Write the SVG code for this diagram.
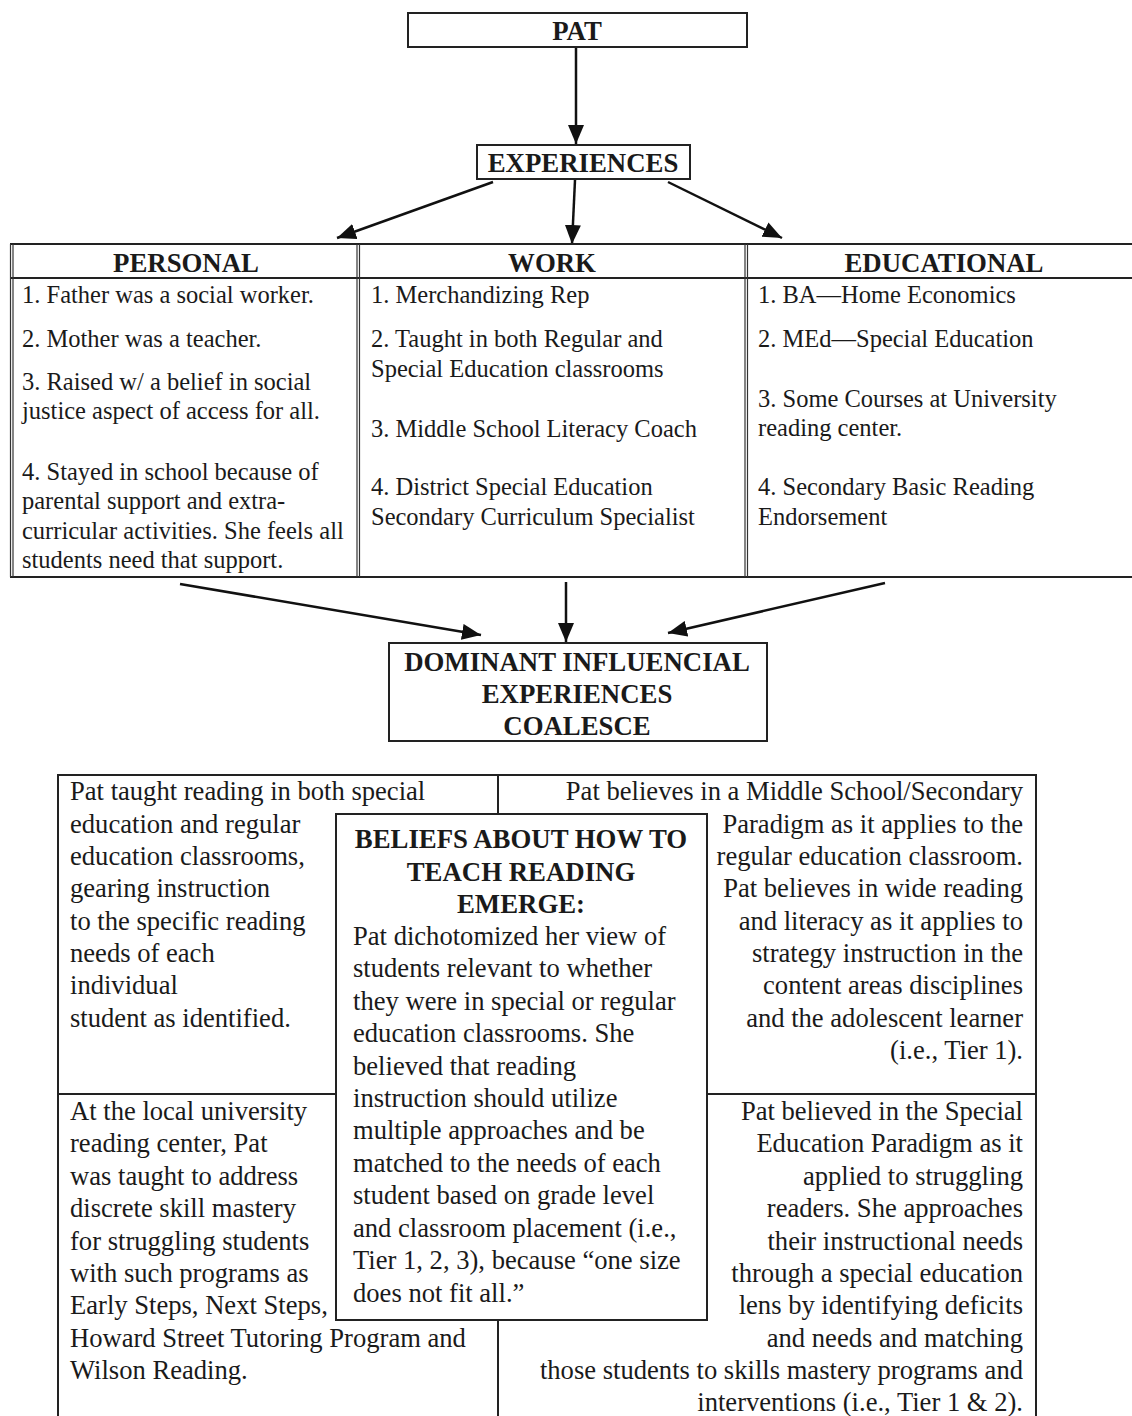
<svg xmlns="http://www.w3.org/2000/svg" width="1132" height="1416" viewBox="0 0 1132 1416">
<style>
  .box { fill: #fff; stroke: #222; stroke-width: 2; }
  .ln { fill: none; stroke: #222; stroke-width: 2; }
  .ln1 { fill: none; stroke: #333; stroke-width: 1.2; }
  .con { fill: none; stroke: #111; stroke-width: 2.5; marker-end: url(#ah); }
  text { font-family: "Liberation Serif", "Times New Roman", serif; fill: #1a1a1a; }
  .h { font-size: 26.8px; font-weight: bold; text-anchor: middle; }
  .t { font-size: 24.5px; }
  .g { font-size: 26.6px; }
  .r { text-anchor: end; }
</style>
<defs>
  <marker id="ah" markerUnits="userSpaceOnUse" markerWidth="20" markerHeight="16" refX="19" refY="8" orient="auto">
    <path d="M0,0 L19,8 L0,16 z" fill="#111"/>
  </marker>
</defs>
<rect width="1132" height="1416" fill="#fff"/>

<g id="connectors">
  <line class="con" x1="576" y1="47" x2="576" y2="144"/>
  <line class="con" x1="493" y1="182" x2="337" y2="238"/>
  <line class="con" x1="575" y1="180" x2="572" y2="244"/>
  <line class="con" x1="668" y1="182" x2="782" y2="238"/>
  <line class="con" x1="180" y1="584" x2="481" y2="635"/>
  <line class="con" x1="566" y1="582" x2="566" y2="642"/>
  <line class="con" x1="885" y1="583" x2="668" y2="633"/>
</g>

<g id="pat">
  <rect class="box" x="408" y="13" width="339" height="34"/>
  <text class="h" x="577" y="40">PAT</text>
</g>

<g id="experiences">
  <rect class="box" x="477" y="145" width="213" height="34"/>
  <text class="h" x="583" y="172">EXPERIENCES</text>
</g>

<g id="experience-table">
  <line class="ln" x1="10" y1="244" x2="1132" y2="244"/>
  <line class="ln" x1="10" y1="278" x2="1132" y2="278"/>
  <line class="ln" x1="10" y1="577" x2="1132" y2="577"/>
  <line class="ln1" x1="10.5" y1="244" x2="10.5" y2="577"/>
  <line class="ln1" x1="13" y1="244" x2="13" y2="577"/>
  <line class="ln1" x1="357" y1="244" x2="357" y2="577"/>
  <line class="ln1" x1="359.5" y1="244" x2="359.5" y2="577"/>
  <line class="ln1" x1="745" y1="244" x2="745" y2="577"/>
  <line class="ln1" x1="747.5" y1="244" x2="747.5" y2="577"/>
</g>

<g id="personal">
  <text class="h" x="186" y="272">PERSONAL</text>
  <text class="t" x="22" y="303">1. Father was a social worker.</text>
  <text class="t" x="22" y="347">2. Mother was a teacher.</text>
  <text class="t" x="22" y="390">3. Raised w/ a belief in social</text>
  <text class="t" x="22" y="419">justice aspect of access for all.</text>
  <text class="t" x="22" y="480">4. Stayed in school because of</text>
  <text class="t" x="22" y="509">parental support and extra-</text>
  <text class="t" x="22" y="539">curricular activities. She feels all</text>
  <text class="t" x="22" y="568">students need that support.</text>
</g>

<g id="work">
  <text class="h" x="552" y="272">WORK</text>
  <text class="t" x="371" y="303">1. Merchandizing Rep</text>
  <text class="t" x="371" y="347">2. Taught in both Regular and</text>
  <text class="t" x="371" y="377">Special Education classrooms</text>
  <text class="t" x="371" y="437">3. Middle School Literacy Coach</text>
  <text class="t" x="371" y="495">4. District Special Education</text>
  <text class="t" x="371" y="525">Secondary Curriculum Specialist</text>
</g>

<g id="educational">
  <text class="h" x="944" y="272">EDUCATIONAL</text>
  <text class="t" x="758" y="303">1. BA—Home Economics</text>
  <text class="t" x="758" y="347">2. MEd—Special Education</text>
  <text class="t" x="758" y="407">3. Some Courses at University</text>
  <text class="t" x="758" y="436">reading center.</text>
  <text class="t" x="758" y="495">4. Secondary Basic Reading</text>
  <text class="t" x="758" y="525">Endorsement</text>
</g>

<g id="dominant">
  <rect class="box" x="389" y="643" width="378" height="98"/>
  <text class="h" x="577" y="671">DOMINANT INFLUENCIAL</text>
  <text class="h" x="577" y="703">EXPERIENCES</text>
  <text class="h" x="577" y="735">COALESCE</text>
</g>

<g id="beliefs-grid">
  <path class="ln" d="M58,1416 V775 H1036 V1416"/>
  <line class="ln" x1="58" y1="1094" x2="336" y2="1094"/>
  <line class="ln" x1="707" y1="1094" x2="1036" y2="1094"/>
  <line class="ln" x1="498" y1="775" x2="498" y2="814"/>
  <line class="ln" x1="498" y1="1320" x2="498" y2="1416"/>
</g>

<g id="reading-instruction">
  <text class="g" x="70" y="800">Pat taught reading in both special</text>
  <text class="g" x="70" y="833">education and regular</text>
  <text class="g" x="70" y="865">education classrooms,</text>
  <text class="g" x="70" y="897">gearing instruction</text>
  <text class="g" x="70" y="930">to the specific reading</text>
  <text class="g" x="70" y="962">needs of each</text>
  <text class="g" x="70" y="994">individual</text>
  <text class="g" x="70" y="1027">student as identified.</text>
</g>

<g id="middle-school-paradigm">
  <text class="g r" x="1023" y="800">Pat believes in a Middle School/Secondary</text>
  <text class="g r" x="1023" y="833">Paradigm as it applies to the</text>
  <text class="g r" x="1023" y="865">regular education classroom.</text>
  <text class="g r" x="1023" y="897">Pat believes in wide reading</text>
  <text class="g r" x="1023" y="930">and literacy as it applies to</text>
  <text class="g r" x="1023" y="962">strategy instruction in the</text>
  <text class="g r" x="1023" y="994">content areas disciplines</text>
  <text class="g r" x="1023" y="1027">and the adolescent learner</text>
  <text class="g r" x="1023" y="1059">(i.e., Tier 1).</text>
</g>

<g id="university-reading-center">
  <text class="g" x="70" y="1120">At the local university</text>
  <text class="g" x="70" y="1152">reading center, Pat</text>
  <text class="g" x="70" y="1185">was taught to address</text>
  <text class="g" x="70" y="1217">discrete skill mastery</text>
  <text class="g" x="70" y="1250">for struggling students</text>
  <text class="g" x="70" y="1282">with such programs as</text>
  <text class="g" x="70" y="1314">Early Steps, Next Steps,</text>
  <text class="g" x="70" y="1347">Howard Street Tutoring Program and</text>
  <text class="g" x="70" y="1379">Wilson Reading.</text>
</g>

<g id="special-education-paradigm">
  <text class="g r" x="1023" y="1120">Pat believed in the Special</text>
  <text class="g r" x="1023" y="1152">Education Paradigm as it</text>
  <text class="g r" x="1023" y="1185">applied to struggling</text>
  <text class="g r" x="1023" y="1217">readers. She approaches</text>
  <text class="g r" x="1023" y="1250">their instructional needs</text>
  <text class="g r" x="1023" y="1282">through a special education</text>
  <text class="g r" x="1023" y="1314">lens by identifying deficits</text>
  <text class="g r" x="1023" y="1347">and needs and matching</text>
  <text class="g r" x="1023" y="1379">those students to skills mastery programs and</text>
  <text class="g r" x="1023" y="1411">interventions (i.e., Tier 1 &amp; 2).</text>
</g>

<g id="beliefs">
  <rect class="box" x="336" y="814" width="371" height="506"/>
  <text class="h" x="521" y="848">BELIEFS ABOUT HOW TO</text>
  <text class="h" x="521" y="881">TEACH READING</text>
  <text class="h" x="521" y="913">EMERGE:</text>
  <text class="g" x="353" y="945">Pat dichotomized her view of</text>
  <text class="g" x="353" y="977">students relevant to whether</text>
  <text class="g" x="353" y="1010">they were in special or regular</text>
  <text class="g" x="353" y="1042">education classrooms. She</text>
  <text class="g" x="353" y="1075">believed that reading</text>
  <text class="g" x="353" y="1107">instruction should utilize</text>
  <text class="g" x="353" y="1139">multiple approaches and be</text>
  <text class="g" x="353" y="1172">matched to the needs of each</text>
  <text class="g" x="353" y="1204">student based on grade level</text>
  <text class="g" x="353" y="1237">and classroom placement (i.e.,</text>
  <text class="g" x="353" y="1269">Tier 1, 2, 3), because “one size</text>
  <text class="g" x="353" y="1302">does not fit all.”</text>
</g>
</svg>
